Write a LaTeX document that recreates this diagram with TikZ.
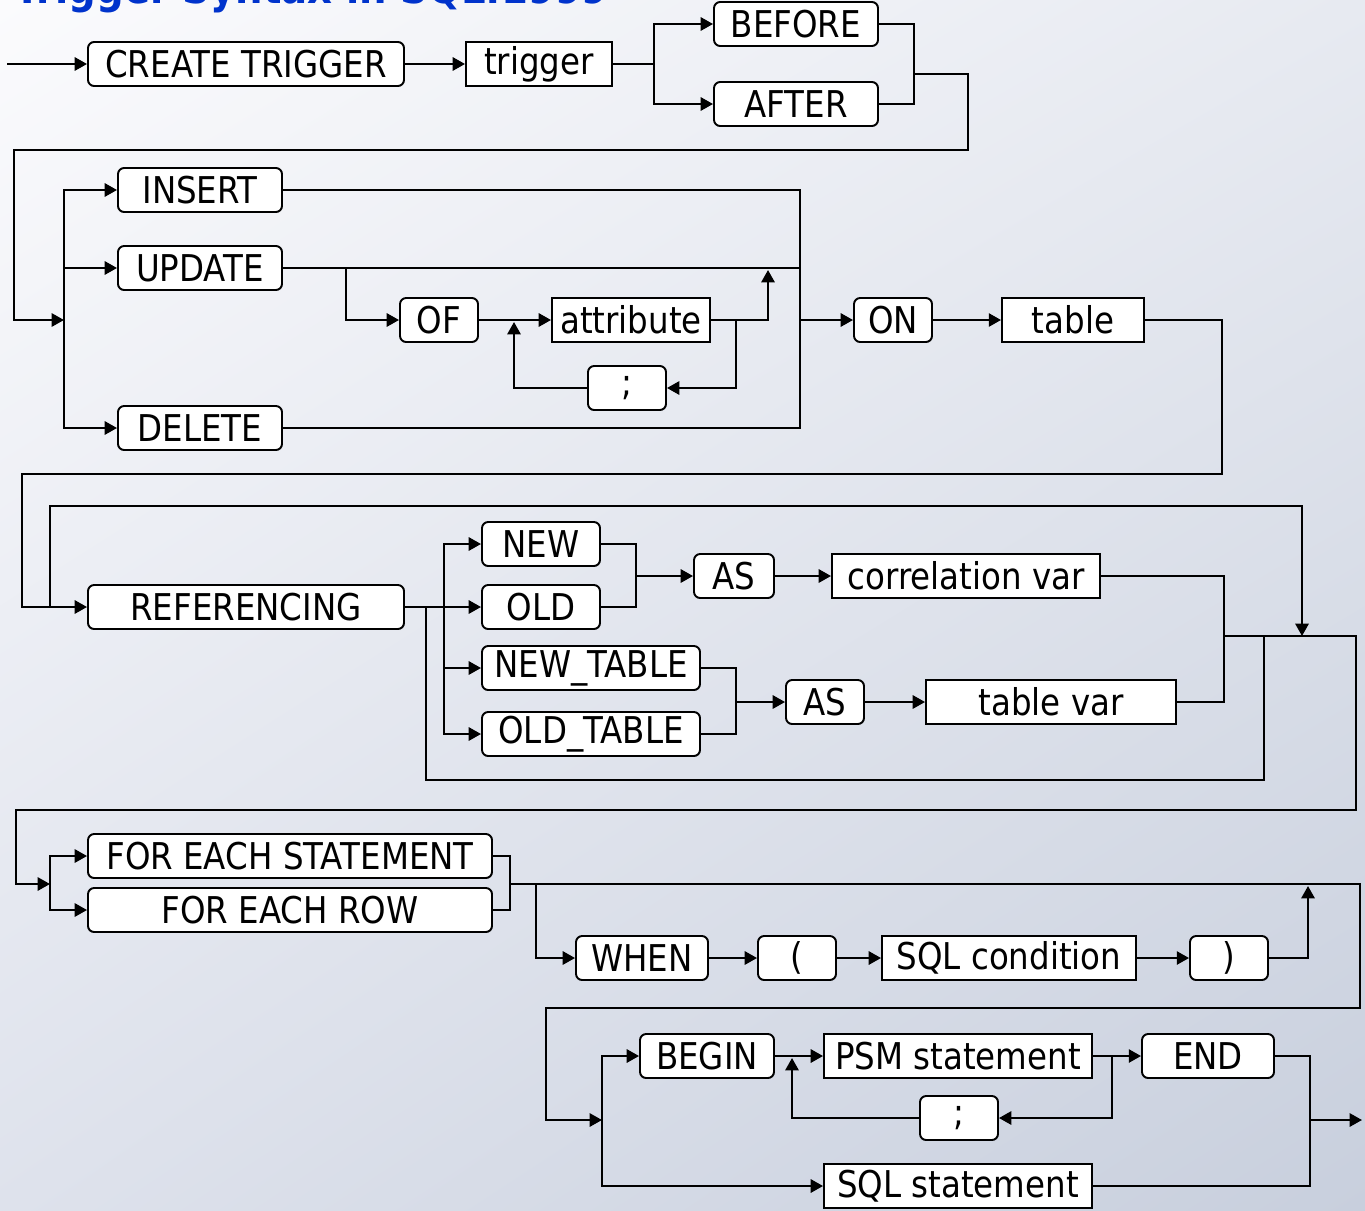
\documentclass[tikz,border=0pt]{standalone}
\usepackage{fontspec}
\setmainfont{DejaVu Sans}[FakeStretch=0.88]
\usetikzlibrary{arrows.meta,shadings}
\definecolor{bgtl}{RGB}{251,251,253}
\definecolor{bgtr}{RGB}{231,234,241}
\definecolor{bgbl}{RGB}{222,226,236}
\definecolor{bgbr}{RGB}{200,207,221}
\definecolor{titleblue}{RGB}{0,51,204}
\tikzset{
    kw/.style={draw, fill=white, rounded corners=3.5pt, line width=1.1pt, inner sep=0pt,
        minimum height=44*0.02cm, font=\fontsize{21}{25}\selectfont},
    nt/.style={kw, sharp corners},
    wd/.style={minimum width=#1*0.02cm},
    line/.style={line width=1.3pt},
    arr/.style={line, -{Triangle[length=7pt,width=7.5pt]}},
}
\begin{document}
\begin{tikzpicture}[x=0.02cm, y=-0.02cm]
    \shade[upper left=bgtl, upper right=bgtr, lower left=bgbl, lower right=bgbr]
        (0,0) rectangle (1365,1210);
    \useasboundingbox (0,0) rectangle (1365,1210);
    \node (title) [anchor=base west, text=titleblue, font=\fontsize{25}{30}\selectfont\bfseries]
        at (8,4) {Trigger Syntax in SQL:1999};

    \node (create) [kw, wd=316] at (246,64) {CREATE TRIGGER};
    \node (trig) [nt, wd=146] at (539,64) {trigger};
    \node (before) [kw, wd=164] at (796,24) {BEFORE};
    \node (after) [kw, wd=164] at (796,104) {AFTER};

    \node (insert) [kw, wd=164] at (200,190) {INSERT};
    \node (update) [kw, wd=164] at (200,268) {UPDATE};
    \node (delete) [kw, wd=164] at (200,428) {DELETE};
    \node (of) [kw, wd=78] at (439,320) {OF};
    \node (attr) [nt, wd=158] at (631,320) {attribute};
    \node (semi1) [kw, wd=78] at (627,388) {;};
    \node (on) [kw, wd=78] at (893,320) {ON};
    \node (table) [nt, wd=142] at (1073,320) {table};

    \node (refs) [kw, wd=316] at (246,607) {REFERENCING};
    \node (new) [kw, wd=118] at (541,544) {NEW};
    \node (old) [kw, wd=118] at (541,607) {OLD};
    \node (newt) [kw, wd=218] at (591,668) {NEW\_TABLE};
    \node (oldt) [kw, wd=218] at (591,734) {OLD\_TABLE};
    \node (as1) [kw, wd=80] at (734,576) {AS};
    \node (corr) [nt, wd=268] at (966,576) {correlation var};
    \node (as2) [kw, wd=78] at (825,702) {AS};
    \node (tvar) [nt, wd=250] at (1051,702) {table var};

    \node (fes) [kw, wd=404] at (290,856) {FOR EACH STATEMENT};
    \node (fer) [kw, wd=404] at (290,910) {FOR EACH ROW};
    \node (when) [kw, wd=132] at (642,958) {WHEN};
    \node (lpar) [kw, wd=78] at (797,958) {(};
    \node (cond) [nt, wd=254] at (1009,958) {SQL condition};
    \node (rpar) [kw, wd=78] at (1229,958) {)};

    \node (begin) [kw, wd=134] at (707,1056) {BEGIN};
    \node (psm) [nt, wd=268] at (958,1056) {PSM statement};
    \node (endk) [kw, wd=132] at (1208,1056) {END};
    \node (semi2) [kw, wd=78] at (959,1118) {;};
    \node (sqls) [nt, wd=268] at (958,1186) {SQL statement};

    \coordinate (start) at (7,64);
    \coordinate (s1) at (654,64);
    \coordinate (j1) at (914,74);
    \coordinate (s2) at (64,320);
    \coordinate (s3) at (346,268);
    \coordinate (u1) at (768,270);
    \coordinate (l1) at (736,320);
    \coordinate (l2) at (514,322);
    \coordinate (j2) at (800,320);
    \coordinate (b3) at (22,607);
    \coordinate (s4) at (50,607);
    \coordinate (s5) at (444,607);
    \coordinate (s6) at (426,607);
    \coordinate (j5) at (636,576);
    \coordinate (j6) at (736,702);
    \coordinate (j7) at (1224,636);
    \coordinate (j4) at (1302,636);
    \coordinate (s7) at (50,884);
    \coordinate (j8) at (510,884);
    \coordinate (s8) at (536,884);
    \coordinate (u2) at (1308,886);
    \coordinate (s9) at (602,1120);
    \coordinate (l3) at (1112,1056);
    \coordinate (l4) at (792,1058);
    \coordinate (j9) at (1310,1120);
    \coordinate (fin) at (1362,1120);

    \draw[arr] (start) -- (create);
    \draw[arr] (create) -- (trig);
    \draw[line] (trig) -- (s1);
    \draw[arr] (s1) |- (before);
    \draw[arr] (s1) |- (after);
    \draw[line] (before) -| (j1) |- (after);
    \draw[arr] (j1) -- (968,74) |- (14,150) |- (s2);

    \draw[arr] (s2) |- (insert);
    \draw[arr] (s2) |- (update);
    \draw[arr] (s2) |- (delete);
    \draw[line] (insert) -| (j2) |- (delete);
    \draw[line] (update) -- (update -| j2);
    \draw[arr] (s3) |- (of);
    \draw[arr] (of) -- (attr);
    \draw[arr] (attr) -| (u1);
    \draw[arr] (l1) |- (semi1);
    \draw[arr] (semi1) -| (l2);
    \draw[arr] (j2) -- (on);
    \draw[arr] (on) -- (table);
    \draw[arr] (table) -| (1222,474) -| (b3) -- (refs);

    \draw[arr] (s4) |- (1302,506) -- (j4);
    \draw[arr] (refs) -- (old);
    \draw[arr] (s5) |- (new);
    \draw[arr] (s5) |- (newt);
    \draw[arr] (s5) |- (oldt);
    \draw[line] (s5) -- (s5 |- oldt);
    \draw[line] (s6) |- (1264,780) -- (1264,636);
    \draw[line] (new) -| (j5) |- (old);
    \draw[arr] (j5) -- (as1);
    \draw[arr] (as1) -- (corr);
    \draw[line] (newt) -| (j6) |- (oldt);
    \draw[arr] (j6) -- (as2);
    \draw[arr] (as2) -- (tvar);
    \draw[line] (corr) -| (j7) |- (tvar);
    \draw[arr] (j7) -- (1356,636) |- (16,810) |- (s7);

    \draw[arr] (s7) |- (fes);
    \draw[arr] (s7) |- (fer);
    \draw[line] (fes) -| (j8) |- (fer);
    \draw[arr] (j8) -- (1360,884) |- (546,1008) |- (s9);
    \draw[arr] (s8) |- (when);
    \draw[arr] (when) -- (lpar);
    \draw[arr] (lpar) -- (cond);
    \draw[arr] (cond) -- (rpar);
    \draw[arr] (rpar) -| (u2);

    \draw[arr] (s9) |- (begin);
    \draw[arr] (s9) |- (sqls);
    \draw[arr] (begin) -- (psm);
    \draw[arr] (psm) -- (endk);
    \draw[arr] (l3) |- (semi2);
    \draw[arr] (semi2) -| (l4);
    \draw[line] (endk) -| (j9) |- (sqls);
    \draw[arr] (j9) -- (fin);
\end{tikzpicture}
\end{document}
